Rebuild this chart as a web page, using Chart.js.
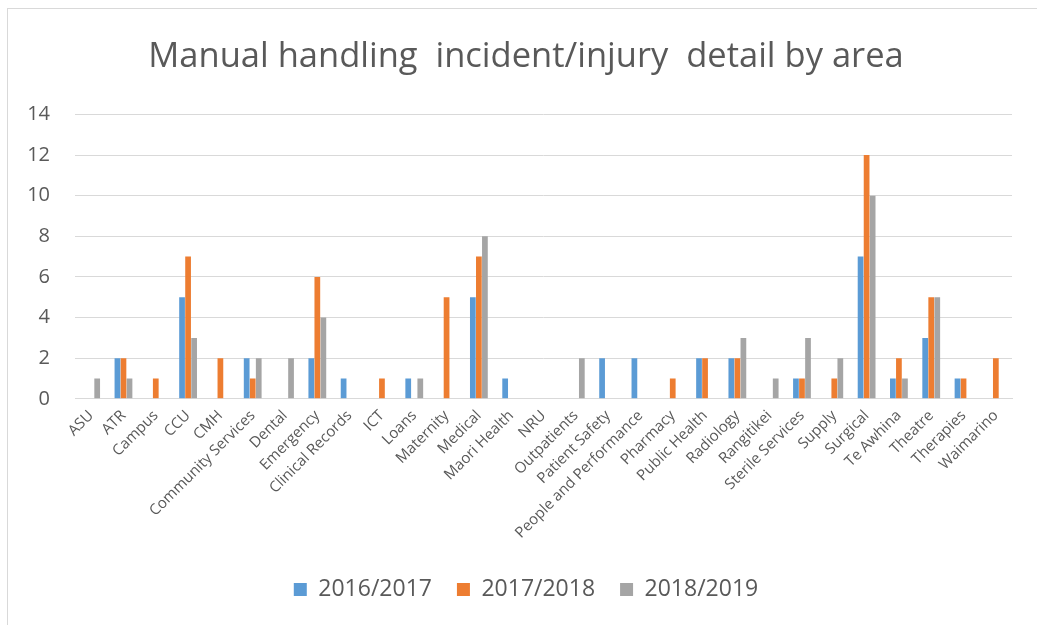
<!DOCTYPE html>
<html>
<head>
<meta charset="utf-8">
<script src="https://cdn.jsdelivr.net/npm/chart.js@4/dist/chart.umd.min.js"></script>
<style>
  html, body { margin: 0; padding: 0; background: #fff; }
  #wrap { position: absolute; left: 0; top: 0; width: 1037px; height: 625px; }
</style>
</head>
<body>
<div id="wrap"><canvas id="chart"></canvas></div>
<script>
// DATA
const areas = [
  "ASU", "ATR", "Campus", "CCU", "CMH", "Community Services", "Dental",
  "Emergency", "Clinical Records", "ICT", "Loans", "Maternity", "Medical",
  "Maori Health", "NRU", "Outpatients", "Patient Safety",
  "People and Performance", "Pharmacy", "Public Health", "Radiology",
  "Rangitikei", "Sterile Services", "Supply", "Surgical", "Te Awhina",
  "Theatre", "Therapies", "Waimarino"
];
const y2016 = [0, 2, 0, 5, 0, 2, 0, 2, 1, 0, 1, 0, 5, 1, 0, 0, 2, 2, 0, 2, 2, 0, 1, 0, 7, 1, 3, 1, 0];
const y2017 = [0, 2, 1, 7, 2, 1, 0, 6, 0, 1, 0, 5, 7, 0, 0, 0, 0, 0, 1, 2, 2, 0, 1, 1, 12, 2, 5, 1, 2];
const y2018 = [1, 1, 0, 3, 0, 2, 2, 4, 0, 0, 1, 0, 8, 0, 0, 2, 0, 0, 0, 0, 3, 1, 3, 2, 10, 1, 5, 0, 0];
const seriesNames = ["2016/2017", "2017/2018", "2018/2019"];
const yTicks = [0, 2, 4, 6, 8, 10, 12, 14];

const grey = "#595959";
const font = "'Open Sans', 'Noto Sans', sans-serif";

// light frame round the chart
const frame = {
  id: "frame",
  beforeDraw(chart) {
    const c = chart.ctx;
    c.save();
    c.strokeStyle = "#d9d9d9";
    c.lineWidth = 1;
    c.strokeRect(7.5, 8.5, 1100, 700);
    c.restore();
  }
};

const colors = ["#5b9bd5", "#ed7d31", "#a5a5a5"];
const datasets = [y2016, y2017, y2018].map((d, i) => ({
  label: seriesNames[i],
  data: d,
  backgroundColor: colors[i],
  borderWidth: 0,
  categoryPercentage: 0.56,
  barPercentage: 0.95
}));

new Chart(document.getElementById("chart"), {
  type: "bar",
  data: { labels: areas, datasets },
  plugins: [frame],
  options: {
    responsive: true,
    maintainAspectRatio: false,
    animation: false,
    layout: { padding: { top: 36, left: 15, right: 0, bottom: 14 } },
    plugins: {
      title: {
        display: true,
        text: "Manual handling  incident/injury  detail by area",
        color: grey,
        font: { family: font, size: 34.5, weight: "normal" },
        padding: { top: 0, bottom: 37 }
      },
      legend: {
        position: "bottom",
        labels: {
          color: grey,
          font: { family: font, size: 23 },
          boxWidth: 13,
          boxHeight: 13,
          padding: 25
        }
      },
      tooltip: { enabled: false }
    },
    scales: {
      x: {
        grid: { display: false },
        border: { color: "#d9d9d9" },
        afterFit(axis) {
          // gap between the slanted names and the legend
          axis.height += 11;
        },
        ticks: {
          color: grey,
          font: { family: font, size: 15 },
          minRotation: 45,
          maxRotation: 45,
          autoSkip: false,
          padding: 0
        }
      },
      y: {
        min: 0,
        max: 14,
        afterBuildTicks(axis) {
          axis.ticks = yTicks.map((v) => ({ value: v }));
        },
        afterFit(axis) {
          axis.width = 60;
        },
        grid: { color: "#d9d9d9", drawTicks: false },
        border: { display: false },
        ticks: {
          color: grey,
          font: { family: font, size: 20 },
          padding: 25
        }
      },
      // empty right-hand margin after the last category
      yRight: {
        position: "right",
        grid: { display: false },
        border: { display: false },
        ticks: { display: false },
        afterFit(axis) {
          axis.width = 25;
        }
      }
    }
  }
});
</script>
</body>
</html>
